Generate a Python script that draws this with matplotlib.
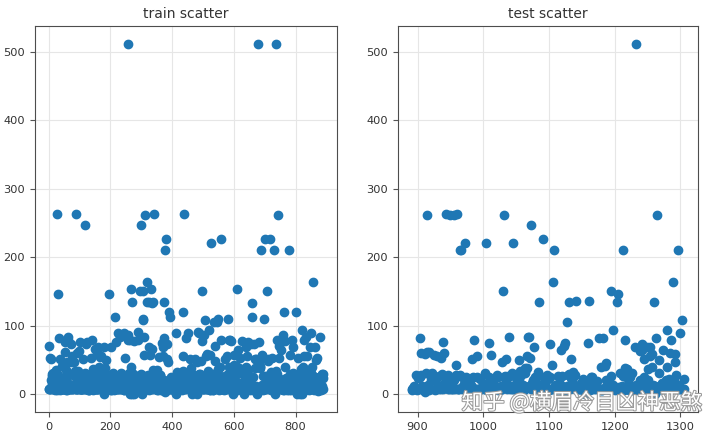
import numpy as np
import matplotlib
matplotlib.use("Agg")
import matplotlib.pyplot as plt
import matplotlib.patheffects as pe

# Fare column, train set (in row order)
train_fare = [
    7.25, 71.2833, 7.925, 53.1, 8.05, 8.4583, 51.8625, 21.075, 11.1333, 30.0708, 16.7, 26.55, 8.05, 31.275, 7.8542, 16, 29.125, 13, 18, 7.225,
    26, 13, 8.0292, 35.5, 21.075, 31.3875, 7.225, 263, 7.8792, 7.8958, 27.7208, 146.5208, 7.75, 10.5, 82.1708, 52, 7.2292, 8.05, 18, 11.2417,
    9.475, 21, 7.8958, 41.5792, 7.8792, 8.05, 15.5, 7.75, 21.6792, 17.8, 39.6875, 7.8, 76.7292, 26, 61.9792, 35.5, 10.5, 7.2292, 27.75, 46.9,
    7.2292, 80, 83.475, 27.9, 27.7208, 15.2458, 10.5, 8.1583, 7.925, 8.6625, 10.5, 46.9, 73.5, 14.4542, 56.4958, 7.65, 7.8958, 8.05, 29, 12.475,
    9, 9.5, 7.7875, 47.1, 10.5, 15.85, 34.375, 8.05, 263, 8.05, 8.05, 7.8542, 61.175, 20.575, 7.25, 8.05, 34.6542, 63.3583, 23, 26,
    7.8958, 7.8958, 77.2875, 8.6542, 7.925, 7.8958, 7.65, 7.775, 7.8958, 24.15, 52, 14.4542, 8.05, 9.825, 14.4583, 7.925, 7.75, 21, 247.5208, 31.275,
    73.5, 8.05, 30.0708, 13, 77.2875, 11.2417, 7.75, 7.1417, 22.3583, 6.975, 7.8958, 7.05, 14.5, 26, 13, 15.0458, 26.2833, 53.1, 9.2167, 79.2,
    15.2458, 7.75, 15.85, 6.75, 11.5, 36.75, 7.7958, 34.375, 26, 13, 12.525, 66.6, 8.05, 14.5, 7.3125, 61.3792, 7.7333, 8.05, 8.6625, 69.55,
    16.1, 15.75, 7.775, 8.6625, 39.6875, 20.525, 55, 27.9, 25.925, 56.4958, 33.5, 29.125, 11.1333, 7.925, 30.6958, 7.8542, 25.4667, 28.7125, 13, 0,
    69.55, 15.05, 31.3875, 39, 22.025, 50, 15.5, 26.55, 15.5, 7.8958, 13, 13, 7.8542, 26, 27.7208, 146.5208, 7.75, 8.4042, 7.75, 13,
    9.5, 69.55, 6.4958, 7.225, 8.05, 10.4625, 15.85, 18.7875, 7.75, 31, 7.05, 21, 7.25, 13, 7.75, 113.275, 7.925, 27, 76.2917, 10.5,
    8.05, 13, 8.05, 7.8958, 90, 9.35, 10.5, 7.25, 13, 25.4667, 83.475, 7.775, 13.5, 31.3875, 10.5, 7.55, 26, 26.25, 10.5, 12.275,
    14.4542, 15.5, 10.5, 7.125, 7.225, 90, 7.775, 14.5, 52.5542, 26, 7.25, 10.4625, 26.55, 16.1, 20.2125, 15.2458, 79.2, 86.5, 512.3292, 26,
    7.75, 31.3875, 79.65, 0, 7.75, 10.5, 39.6875, 7.775, 153.4625, 135.6333, 31, 0, 19.5, 29.7, 7.75, 77.9583, 7.75, 0, 29.125, 20.25,
    7.75, 7.8542, 9.5, 8.05, 26, 8.6625, 9.5, 7.8958, 13, 7.75, 78.85, 91.0792, 12.875, 8.85, 7.8958, 27.7208, 7.2292, 151.55, 30.5, 247.5208,
    7.75, 23.25, 0, 12.35, 8.05, 151.55, 110.8833, 108.9, 24, 56.9292, 83.1583, 262.375, 26, 7.8958, 26.25, 7.8542, 26, 14, 164.8667, 134.5,
    7.25, 7.8958, 12.35, 29, 69.55, 135.6333, 6.2375, 13, 20.525, 57.9792, 23.25, 28.5, 153.4625, 18, 133.65, 7.8958, 66.6, 134.5, 8.05, 35.5,
    26, 263, 13, 13, 13, 13, 13, 16.1, 15.9, 8.6625, 9.225, 35, 7.2292, 17.8, 7.225, 9.5, 55, 13, 7.8792, 7.8792,
    27.9, 27.7208, 14.4542, 7.05, 15.5, 7.25, 75.25, 7.2292, 7.75, 69.3, 55.4417, 6.4958, 8.05, 135.6333, 21.075, 82.1708, 7.25, 211.5, 4.0125, 7.775,
    227.525, 15.7417, 7.925, 52, 7.8958, 73.5, 46.9, 13, 7.7292, 12, 120, 7.7958, 7.925, 113.275, 16.7, 7.7958, 7.8542, 26, 10.5, 12.65,
    7.925, 8.05, 9.825, 15.85, 8.6625, 21, 7.75, 18.75, 7.775, 25.4667, 7.8958, 6.8583, 90, 0, 7.925, 8.05, 32.5, 13, 13, 24.15,
    7.8958, 7.7333, 7.875, 14.4, 20.2125, 7.25, 26, 26, 7.75, 8.05, 26.55, 16.1, 26, 7.125, 55.9, 120, 34.375, 18.75, 263, 10.5,
    26.25, 9.5, 7.775, 13, 8.1125, 81.8583, 19.5, 26.55, 19.2583, 30.5, 27.75, 19.9667, 27.75, 89.1042, 8.05, 7.8958, 26.55, 51.8625, 10.5, 7.75,
    26.55, 8.05, 38.5, 13, 8.05, 7.05, 0, 26.55, 7.725, 19.2583, 7.25, 8.6625, 27.75, 13.7917, 9.8375, 52, 21, 7.0458, 7.5208, 12.2875,
    46.9, 0, 8.05, 9.5875, 91.0792, 25.4667, 90, 29.7, 8.05, 15.9, 19.9667, 7.25, 30.5, 49.5042, 8.05, 14.4583, 78.2667, 15.1, 151.55, 7.7958,
    8.6625, 7.75, 7.6292, 9.5875, 86.5, 108.9, 26, 26.55, 22.525, 56.4958, 7.75, 8.05, 26.2875, 59.4, 7.4958, 34.0208, 10.5, 24.15, 26, 7.8958,
    93.5, 7.8958, 7.225, 57.9792, 7.2292, 7.75, 10.5, 221.7792, 7.925, 11.5, 26, 7.2292, 7.2292, 22.3583, 8.6625, 26.25, 26.55, 106.425, 14.5, 49.5,
    71, 31.275, 31.275, 26, 106.425, 26, 26, 13.8625, 20.525, 36.75, 110.8833, 26, 7.8292, 7.225, 7.775, 26.55, 39.6, 227.525, 79.65, 17.4,
    7.75, 7.8958, 13.5, 8.05, 8.05, 24.15, 7.8958, 21.075, 7.2292, 7.8542, 10.5, 51.4792, 26.3875, 7.75, 8.05, 14.5, 13, 55.9, 14.4583, 7.925,
    30, 110.8833, 26, 40.125, 8.7125, 79.65, 15, 79.2, 8.05, 8.05, 7.125, 78.2667, 7.25, 7.75, 26, 24.15, 33, 0, 7.225, 56.9292,
    27, 7.8958, 42.4, 8.05, 26.55, 15.55, 7.8958, 30.5, 41.5792, 153.4625, 31.275, 7.05, 15.5, 7.75, 8.05, 65, 14.4, 16.1, 39, 10.5,
    14.4542, 52.5542, 15.7417, 7.8542, 16.1, 32.3208, 12.35, 77.9583, 7.8958, 7.7333, 30, 7.0542, 30.5, 0, 27.9, 13, 7.925, 26.25, 39.6875, 16.1,
    7.8542, 69.3, 27.9, 56.4958, 19.2583, 76.7292, 7.8958, 35.5, 7.55, 7.55, 7.8958, 23, 8.4333, 7.8292, 6.75, 73.5, 7.8958, 15.5, 13, 113.275,
    133.65, 7.225, 25.5875, 7.4958, 7.925, 73.5, 13, 7.775, 8.05, 52, 39, 52, 10.5, 13, 0, 7.775, 8.05, 9.8417, 46.9, 512.3292,
    8.1375, 76.7292, 9.225, 46.9, 39, 41.5792, 39.6875, 10.1708, 7.7958, 211.3375, 57, 13.4167, 56.4958, 7.225, 26.55, 13.5, 8.05, 7.7333, 110.8833, 7.65,
    227.525, 26.2875, 14.4542, 7.7417, 7.8542, 26, 13.5, 26.2875, 151.55, 15.2458, 49.5042, 26.55, 52, 9.4833, 13, 7.65, 227.525, 10.5, 15.5, 7.775,
    33, 7.0542, 13, 13, 53.1, 8.6625, 21, 7.7375, 26, 7.925, 211.3375, 18.7875, 0, 13, 13, 16.1, 34.375, 512.3292, 7.8958, 7.8958,
    30, 78.85, 262.375, 16.1, 7.925, 71, 20.25, 13, 53.1, 7.75, 23, 12.475, 9.5, 7.8958, 65, 14.5, 7.7958, 11.5, 8.05, 86.5,
    14.5, 7.125, 7.2292, 120, 7.775, 77.9583, 39.6, 7.75, 24.15, 8.3625, 9.5, 7.8542, 10.5, 7.225, 23, 7.75, 7.75, 12.475, 7.7375, 211.3375,
    7.2292, 57, 30, 23.45, 7.05, 7.25, 7.4958, 29.125, 20.575, 79.2, 7.75, 26, 69.55, 30.6958, 7.8958, 13, 25.9292, 8.6833, 7.2292, 24.15,
    13, 26.25, 120, 8.5167, 6.975, 7.775, 0, 7.775, 13, 53.1, 7.8875, 24.15, 10.5, 31.275, 8.05, 0, 7.925, 37.0042, 6.45, 27.9,
    93.5, 8.6625, 0, 12.475, 39.6875, 6.95, 56.4958, 37.0042, 7.75, 80, 14.4542, 18.75, 7.2292, 7.8542, 8.3, 83.1583, 8.6625, 8.05, 56.4958, 29.7,
    7.925, 10.5, 31, 6.4375, 8.6625, 7.55, 69.55, 7.8958, 33, 89.1042, 31.275, 7.775, 15.2458, 39.4, 26, 9.35, 164.8667, 26.55, 19.2583, 7.2292,
    14.1083, 11.5, 25.9292, 69.55, 13, 13, 13.8583, 50.4958, 9.5, 11.1333, 7.8958, 52.5542, 5, 9, 24, 7.225, 9.8458, 7.8958, 7.8958, 83.1583,
    26, 7.8958, 10.5167, 10.5, 7.05, 29.125, 13, 30, 23.45, 30, 7.75,
]

# Fare column, test set (one missing value)
test_fare = [
    7.8292, 7, 9.6875, 8.6625, 12.2875, 9.225, 7.6292, 29, 7.2292, 24.15, 7.8958, 26, 82.2667, 26, 61.175, 27.7208, 12.35, 7.225, 7.925, 7.225,
    59.4, 3.1708, 31.6833, 61.3792, 262.375, 14.5, 61.9792, 7.225, 30.5, 21.6792, 26, 31.5, 20.575, 23.45, 57.75, 7.2292, 8.05, 8.6625, 9.5, 56.4958,
    13.4167, 26.55, 7.85, 13, 52.5542, 7.925, 29.7, 7.75, 76.2917, 15.9, 60, 15.0333, 23, 263, 15.5792, 29.125, 7.8958, 7.65, 16.1, 262.375,
    7.8958, 13.5, 7.75, 7.725, 262.375, 21, 7.8792, 42.4, 28.5375, 263, 7.75, 7.8958, 7.925, 27.7208, 211.5, 211.5, 8.05, 25.7, 13, 7.75,
    15.2458, 221.7792, 26, 7.8958, 10.7083, 14.4542, 7.8792, 8.05, 7.75, 23, 13.9, 7.775, 52, 8.05, 26, 78.85, 7.925, 7.8542, 8.05, 55.4417,
    26, 7.75, 7.775, 8.5167, 22.525, 7.8208, 7.75, 8.7125, 13, 15.0458, 7.7792, 31.6792, 7.2833, 221.7792, 14.4542, 6.4375, 16.7, 75.2417, 26, 15.75,
    7.75, 57.75, 7.25, 7.75, 16.1, 7.7958, 23.25, 13, 8.05, 8.05, 28.5, 25.4667, 6.4375, 7.8958, 7.8542, 7.225, 13, 8.05, 46.9, 151.55,
    262.375, 26, 26.55, 18, 51.8625, 8.05, 26.55, 26, 83.1583, 7.8958, np.nan, 12.1833, 31.3875, 7.55, 221.7792, 7.8542, 26.55, 13.775, 7.7333, 15.2458,
    13.5, 7, 13, 22.025, 50.4958, 34.375, 27.7208, 8.9625, 7.55, 7.225, 13.9, 7.2292, 31.3875, 39, 36.75, 55.4417, 39, 83.1583, 13, 83.1583,
    53.1, 7.75, 247.5208, 16, 21, 8.05, 69.55, 13, 26, 26, 14.5, 12.35, 32.5, 7.8542, 134.5, 7.775, 10.5, 8.1125, 15.5, 14.4,
    227.525, 26, 10.5, 25.7417, 7.75, 10.5, 27.7208, 7.8958, 22.525, 7.05, 73.5, 26, 7.775, 42.5, 7.8792, 164.8667, 211.5, 8.05, 13.8583, 8.05,
    10.5, 7.7958, 27.4458, 15.2458, 7.7958, 7.75, 15.1, 13, 65, 26.55, 6.4958, 7.8792, 71.2833, 7.8542, 75.25, 7.225, 13, 106.425, 27.7208, 30,
    134.5, 7.8875, 23.45, 51.8625, 21, 32.5, 26, 14.4542, 27.75, 7.925, 136.7792, 9.325, 9.5, 7.55, 7.75, 8.05, 13, 7.775, 17.4, 7.8542,
    23, 12.1833, 12.7375, 7.8958, 0, 7.55, 8.05, 8.6625, 75.2417, 7.75, 136.7792, 15.5, 7.225, 26, 10.5, 26, 21, 10.5, 8.6625, 13.775,
    7.75, 15.2458, 20.2125, 7.25, 7.25, 82.2667, 7.2292, 8.05, 39.6, 6.95, 7.2292, 81.8583, 9.5, 7.8958, 41.5792, 21.6792, 45.5, 7.8542, 7.775, 15.0458,
    21, 8.6625, 7.75, 26.55, 151.55, 9.35, 93.5, 14.1083, 8.6625, 7.225, 7.575, 7.75, 135.6333, 7.7333, 146.5208, 10.5, 7.8542, 31.5, 7.775, 7.2292,
    13, 26.55, 211.3375, 7.05, 39, 79.2, 26, 13, 36.75, 29.7, 7.225, 15.7417, 7.8958, 26, 13, 7.2292, 31.5, 7.2292, 10.5, 7.5792,
    69.55, 512.3292, 14.5, 7.65, 13, 7.2292, 13.5, 21, 63.3583, 10.5, 73.5, 65, 20.575, 26, 51.4792, 7.8792, 7.75, 15.55, 69.55, 37.0042,
    21, 8.6625, 55.4417, 69.55, 14.4583, 39.6875, 59.4, 13.8583, 11.5, 134.5, 0, 13, 81.8583, 262.375, 8.6625, 11.5, 50, 31.3875, 7.75, 7.8792,
    14.5, 16.1, 12.875, 65, 7.775, 13, 7.75, 21.075, 93.5, 39.4, 20.25, 10.5, 22.025, 60, 7.25, 79.2, 7.775, 7.7333, 164.8667, 21,
    59.4, 47.1, 27.7208, 13.8625, 10.5, 211.5, 7.7208, 13.775, 7.75, 90, 7.775, 8.05, 108.9, 7.25, 8.05, 22.3583,
]

train_idx = np.arange(len(train_fare))
test_idx = np.arange(len(train_fare), len(train_fare) + len(test_fare))

fig = plt.figure(figsize=(7.2, 4.38), dpi=100)
ax1 = fig.add_axes([35 / 720, 26 / 438, 302 / 720, 386 / 438])
ax2 = fig.add_axes([398 / 720, 26 / 438, 300 / 720, 386 / 438])

for ax, x, y, title in [(ax1, train_idx, train_fare, 'train scatter'),
                        (ax2, test_idx, test_fare, 'test scatter')]:
    ax.scatter(x, y, color='#1f77b4')
    ax.set_title(title, fontsize=10, color='#333333')
    ax.grid(True, color='#e6e6e6', linewidth=0.8)
    ax.set_axisbelow(True)
    ax.tick_params(labelsize=8.2, colors='#555555', labelcolor='#333333')
    for s in ax.spines.values():
        s.set_color('#4d4d4d')

ax1.set_xticks([0, 200, 400, 600, 800])
ax2.set_xticks([900, 1000, 1100, 1200, 1300])

fig.text(0.808, 0.08, '知乎 @横眉冷目凶神恶煞', fontsize=15.5, ha='center', va='center',
         color='white', family=['Noto Sans CJK SC', 'DejaVu Sans'],
         path_effects=[pe.withStroke(linewidth=1.5, foreground='#9a9a9a')])

fig.savefig('out.png', dpi=100)
